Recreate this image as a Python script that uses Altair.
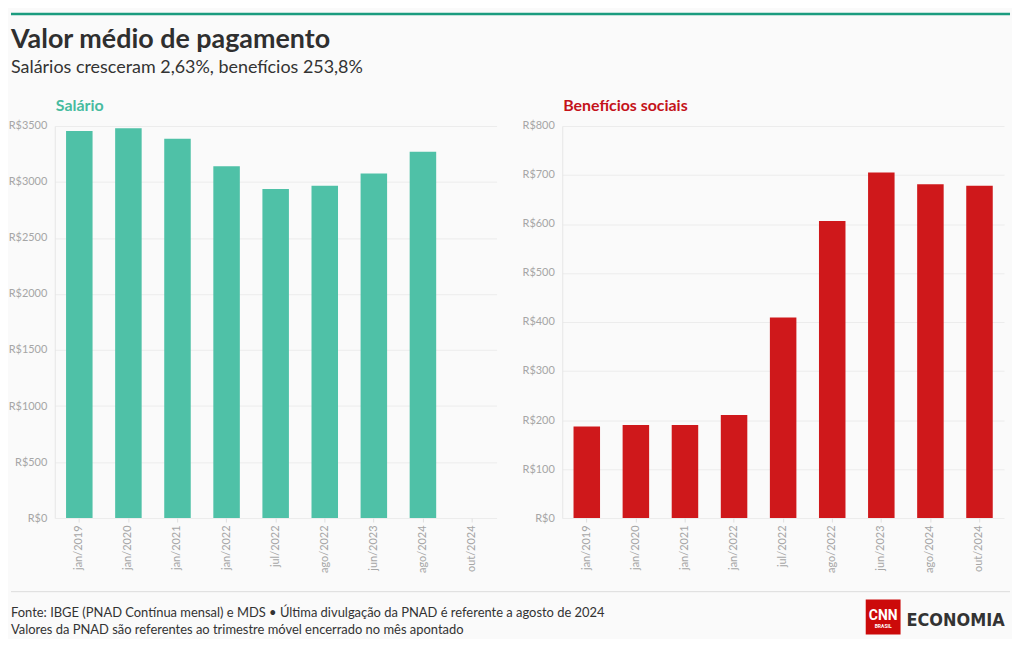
import altair as alt
import pandas as pd

# ---- data -------------------------------------------------------------
months = ["jan/2019", "jan/2020", "jan/2021", "jan/2022", "jul/2022",
          "ago/2022", "jun/2023", "ago/2024", "out/2024"]
salario = [3456, 3479, 3385, 3141, 2938, 2967, 3076, 3269, None]
beneficios = [187, 190, 190, 210, 409, 606, 705, 681, 678]
ticks_sal = [0, 500, 1000, 1500, 2000, 2500, 3000, 3500]
ticks_ben = [0, 100, 200, 300, 400, 500, 600, 700, 800]

title = "Valor médio de pagamento"
subtitle = "Salários cresceram 2,63%, benefícios 253,8%"
panel_titles = ["Salário", "Benefícios sociais"]
footer_lines = [
    "Fonte: IBGE (PNAD Contínua mensal) e MDS • Última divulgação da PNAD é referente a agosto de 2024",
    "Valores da PNAD são referentes ao trimestre móvel encerrado no mês apontado",
]
logo_words = ["CNN", "BRASIL", "ECONOMIA"]

FONT = "Lato"
W, H = 444, 394
TEAL = "#4fc1a7"
RED = "#cf181b"

df_sal = pd.DataFrame({"mes": months, "valor": salario})
df_ben = pd.DataFrame({"mes": months, "valor": beneficios})
one = pd.DataFrame({"k": [0]})


def bars(df, color, ticks, dmax):
    return alt.Chart(df).mark_bar(color=color).encode(
        x=alt.X("mes:N", sort=months,
                scale=alt.Scale(domain=months, paddingInner=0.46, paddingOuter=0.23),
                axis=alt.Axis(title=None, labelAngle=-90, labelAlign="right",
                              labelBaseline="middle", ticks=True, tickSize=4,
                              tickColor="#e0e0e0", labelPadding=3, domain=False,
                              grid=False, labelColor="#a6a6a6", labelFont=FONT,
                              labelFontSize=11)),
        y=alt.Y("valor:Q", scale=alt.Scale(domain=[0, dmax], nice=False),
                axis=alt.Axis(title=None, values=ticks, labelExpr="'R$' + datum.value",
                              ticks=False, labelPadding=8, domain=True,
                              domainColor="#e6e6e6", grid=True, gridColor="#ececec",
                              labelColor="#a6a6a6", labelFont=FONT, labelFontSize=11)),
    )


def txt(text, x, y, size, color, weight="normal", align="left", font=FONT):
    return alt.Chart(one).mark_text(
        text=text, align=align, baseline="alphabetic", fontSize=size, color=color,
        fontWeight=weight, font=font, clip=False,
    ).encode(x=alt.value(x), y=alt.value(y))


def hline(x1, x2, y, color, width):
    return alt.Chart(one).mark_rule(color=color, strokeWidth=width, clip=False).encode(
        x=alt.value(x1), x2=alt.value(x2), y=alt.value(y))


def box(x1, x2, y1, y2, color):
    return alt.Chart(one).mark_rect(color=color, clip=False).encode(
        x=alt.value(x1), x2=alt.value(x2), y=alt.value(y1), y2=alt.value(y2))


left = alt.layer(
    bars(df_sal, TEAL, ticks_sal, 3500),
    hline(-44, 960, -112.5, "#1b9c7f", 2.5),
    txt(title, -44, -78, 27, "#2f2f2f", "bold"),
    txt(subtitle, -44, -53, 18, "#333333"),
    txt(panel_titles[0], 1, -15, 16, "#47bb9f", "bold"),
    hline(-44, 960, 468, "#dddddd", 1),
    txt(footer_lines[0], -44, 493, 13, "#333333"),
    txt(footer_lines[1], -44, 511, 13, "#333333"),
).properties(width=W, height=H)

right = alt.layer(
    bars(df_ben, RED, ticks_ben, 800),
    txt(panel_titles[1], 1, -15, 16, "#c4121a", "bold"),
    box(305, 340, 476, 511, "#cc0a0a"),
    txt(logo_words[0], 322.5, 496, 14, "white", "bold", "center", "Roboto"),
    txt(logo_words[1], 322.5, 505, 5, "white", "bold", "center", "Roboto"),
    txt(logo_words[2], 346, 503, 18, "#333333", "bold", "left",
        "DejaVu Sans Condensed, Roboto"),
).properties(width=W, height=H)

chart = alt.hconcat(left, right, spacing=66, bounds="flush").properties(
    padding={"top": 3, "left": 0, "right": 0, "bottom": 0},
    background="#fafafa",
).configure_view(stroke=None)

chart.save("out.html", embed_options={"renderer": "svg", "actions": False})
